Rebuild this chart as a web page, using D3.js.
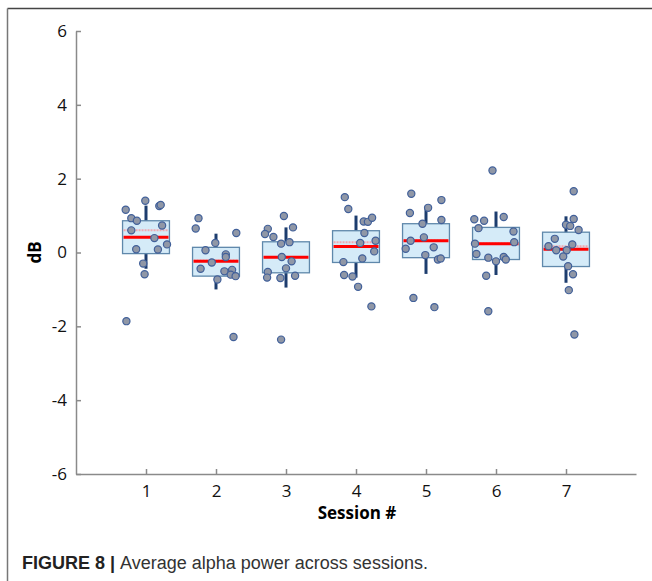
<!DOCTYPE html>
<html>
<head>
<meta charset="utf-8">
<script src="https://cdn.jsdelivr.net/npm/d3@7"></script>
<style>
  body { margin: 0; background: #fff; }
  svg { display: block; }
</style>
</head>
<body>
<div id="chart"></div>
<script>
// sessions on the x axis
var sessions = [1, 2, 3, 4, 5, 6, 7];

// box stats per session: q1, median, q3, whisker low, whisker high, mean
var q1 =      [-0.03, -0.64, -0.55, -0.27, -0.14, -0.19, -0.38];
var medians = [ 0.41, -0.24, -0.13,  0.16,  0.32,  0.24,  0.09];
var q3 =      [ 0.86,  0.14,  0.29,  0.59,  0.78,  0.68,  0.55];
var whiskLo = [-0.44, -1.00, -0.95, -0.68, -0.58, -0.61, -0.82];
var whiskHi = [ 1.27,  0.51,  0.68,  1.00,  1.23,  1.11,  0.98];
var means =   [ 0.60, -0.22, -0.12,  0.28,  0.33,  0.25,  0.17];

// individual subject points: [session, x offset (in session units), dB]
var points = [
  [1,-0.29,1.16],[1,-0.01,1.40],[1,0.19,1.26],[1,0.21,1.29],[1,-0.21,0.93],[1,-0.13,0.86],
  [1,0.23,0.73],[1,-0.21,0.60],[1,0.12,0.39],[1,0.30,0.22],[1,-0.14,0.09],[1,0.17,0.08],
  [1,-0.04,-0.30],[1,-0.02,-0.59],[1,-0.28,-1.86],
  [2,-0.25,0.93],[2,-0.29,0.65],[2,0.29,0.53],[2,-0.01,0.26],[2,-0.15,0.06],[2,0.14,-0.05],
  [2,0.14,-0.12],[2,-0.06,-0.27],[2,-0.22,-0.44],[2,0.12,-0.51],[2,0.23,-0.47],[2,0.21,-0.60],
  [2,0.28,-0.64],[2,0.02,-0.73],[2,0.25,-2.29],
  [3,-0.03,0.99],[3,-0.26,0.64],[3,-0.30,0.50],[3,0.10,0.68],[3,-0.18,0.42],[3,-0.07,0.24],
  [3,0.05,0.28],[3,-0.06,-0.12],[3,0.08,-0.24],[3,0.00,-0.43],[3,-0.26,-0.53],[3,-0.27,-0.68],
  [3,-0.08,-0.69],[3,0.13,-0.63],[3,-0.07,-2.36],
  [4,-0.16,1.50],[4,-0.11,1.18],[4,0.11,0.84],[4,0.17,0.83],[4,0.23,0.94],[4,0.12,0.53],
  [4,0.06,0.26],[4,0.28,0.32],[4,0.26,0.03],[4,0.09,-0.16],[4,-0.18,-0.26],[4,-0.17,-0.61],
  [4,-0.05,-0.65],[4,0.03,-0.93],[4,0.22,-1.46],
  [5,-0.21,1.59],[5,0.22,1.42],[5,-0.23,1.07],[5,0.03,1.21],[5,0.22,0.88],[5,-0.05,0.78],
  [5,-0.03,0.41],[5,-0.22,0.32],[5,-0.29,0.10],[5,0.11,0.14],[5,-0.01,-0.07],[5,0.17,-0.19],
  [5,0.21,-0.16],[5,-0.18,-1.23],[5,0.12,-1.48],
  [6,-0.05,2.22],[6,-0.31,0.90],[6,-0.17,0.86],[6,-0.25,0.66],[6,0.11,0.96],[6,0.25,0.57],
  [6,0.26,0.28],[6,-0.30,0.24],[6,-0.28,-0.04],[6,-0.11,-0.14],[6,0.00,-0.24],[6,0.11,-0.12],
  [6,0.14,-0.19],[6,-0.14,-0.63],[6,-0.11,-1.59],
  [7,0.11,1.66],[7,0.11,0.91],[7,0.00,0.75],[7,0.06,0.72],[7,0.18,0.61],[7,-0.16,0.37],
  [7,-0.25,0.17],[7,0.09,0.22],[7,-0.14,0.06],[7,0.01,0.06],[7,-0.04,-0.11],[7,0.03,-0.37],
  [7,0.10,-0.59],[7,0.04,-1.02],[7,0.12,-2.22]
];

var yTicks = [-6, -4, -2, 0, 2, 4, 6];

var width = 652, height = 581;

var svg = d3.select("#chart")
    .append("svg")
    .attr("width", width)
    .attr("height", height);

// figure frame (top and left rule)
svg.append("line")
    .attr("x1", 7.5).attr("x2", width).attr("y1", 8.5).attr("y2", 8.5)
    .style("stroke", "#444").style("stroke-width", 1.5);
svg.append("line")
    .attr("x1", 7.5).attr("x2", 7.5).attr("y1", 8.5).attr("y2", height)
    .style("stroke", "#777").style("stroke-width", 1.5);

var x = d3.scaleLinear().domain([0, 8]).range([76, 636]);
var y = d3.scaleLinear().domain([-6, 6]).range([474, 31]);

var tickFont = "'Open Sans', Lato, sans-serif";

// y axis (plain hyphen minus like the original)
var yAxis = svg.append("g")
    .attr("transform", "translate(" + x(0) + ",0)")
    .call(d3.axisLeft(y).tickValues(yTicks).tickFormat(function (d) { return String(d); })
        .tickSize(-5).tickPadding(9).tickSizeOuter(0));
yAxis.selectAll("text").style("font-family", tickFont).style("font-size", "17px").style("fill", "#111");

// x axis
var xAxis = svg.append("g")
    .attr("transform", "translate(0," + y(-6) + ")")
    .call(d3.axisBottom(x).tickValues(sessions).tickSize(-5).tickPadding(11).tickSizeOuter(0));
xAxis.selectAll("text").style("font-family", tickFont).style("font-size", "17px").style("fill", "#111");

svg.selectAll(".domain, .tick line").style("stroke", "#8a8a8a").style("stroke-width", 1.5);

// axis titles
svg.append("text")
    .attr("x", 357).attr("y", 519)
    .attr("text-anchor", "middle")
    .style("font-family", tickFont)
    .style("font-weight", "bold")
    .style("font-size", "17px")
    .text("Session #");

svg.append("text")
    .attr("transform", "translate(41," + y(0) + ") rotate(-90)")
    .attr("text-anchor", "middle")
    .style("font-family", tickFont)
    .style("font-weight", "bold")
    .style("font-size", "17px")
    .text("dB");

var boxHalf = 0.335;

var groups = svg.selectAll(".session")
    .data(sessions)
    .enter()
    .append("g")
    .attr("class", "session");

// whiskers
groups.append("line")
    .attr("x1", function (d) { return x(d); })
    .attr("x2", function (d) { return x(d); })
    .attr("y1", function (d, i) { return y(whiskLo[i]); })
    .attr("y2", function (d, i) { return y(whiskHi[i]); })
    .style("stroke", "#1d3d6e")
    .style("stroke-width", 3);

// boxes
groups.append("rect")
    .attr("x", function (d) { return x(d - boxHalf); })
    .attr("width", function (d) { return x(d + boxHalf) - x(d - boxHalf); })
    .attr("y", function (d, i) { return y(q3[i]); })
    .attr("height", function (d, i) { return y(q1[i]) - y(q3[i]); })
    .style("fill", "#d5ebf8")
    .style("stroke", "#5f88ab")
    .style("stroke-width", 1.3);

// mean (dashed pink)
groups.append("line")
    .attr("x1", function (d) { return x(d - boxHalf) + 1; })
    .attr("x2", function (d) { return x(d + boxHalf) - 1; })
    .attr("y1", function (d, i) { return y(means[i]); })
    .attr("y2", function (d, i) { return y(means[i]); })
    .style("stroke", "#f0a8b0")
    .style("stroke-width", 2)
    .style("stroke-dasharray", "2,1");

// median
groups.append("line")
    .attr("x1", function (d) { return x(d - boxHalf) + 1; })
    .attr("x2", function (d) { return x(d + boxHalf) - 1; })
    .attr("y1", function (d, i) { return y(medians[i]); })
    .attr("y2", function (d, i) { return y(medians[i]); })
    .style("stroke", "#ff0000")
    .style("stroke-width", 3);

// subject points
svg.selectAll(".pt")
    .data(points)
    .enter()
    .append("circle")
    .attr("class", "pt")
    .attr("cx", function (d) { return x(d[0] + d[1]); })
    .attr("cy", function (d) { return y(d[2]); })
    .attr("r", 3.6)
    .style("fill", "#9097a6")
    .style("stroke", "#41609a")
    .style("stroke-width", 1.2);

// caption
var cap = svg.append("text")
    .attr("x", 22).attr("y", 569)
    .style("font-family", "'Liberation Sans', Arial, sans-serif")
    .style("font-size", "18px")
    .style("fill", "#222");
cap.append("tspan").style("font-weight", "bold").text("FIGURE 8 | ");
cap.append("tspan").style("fill", "#333").text("Average alpha power across sessions.");
</script>
</body>
</html>
